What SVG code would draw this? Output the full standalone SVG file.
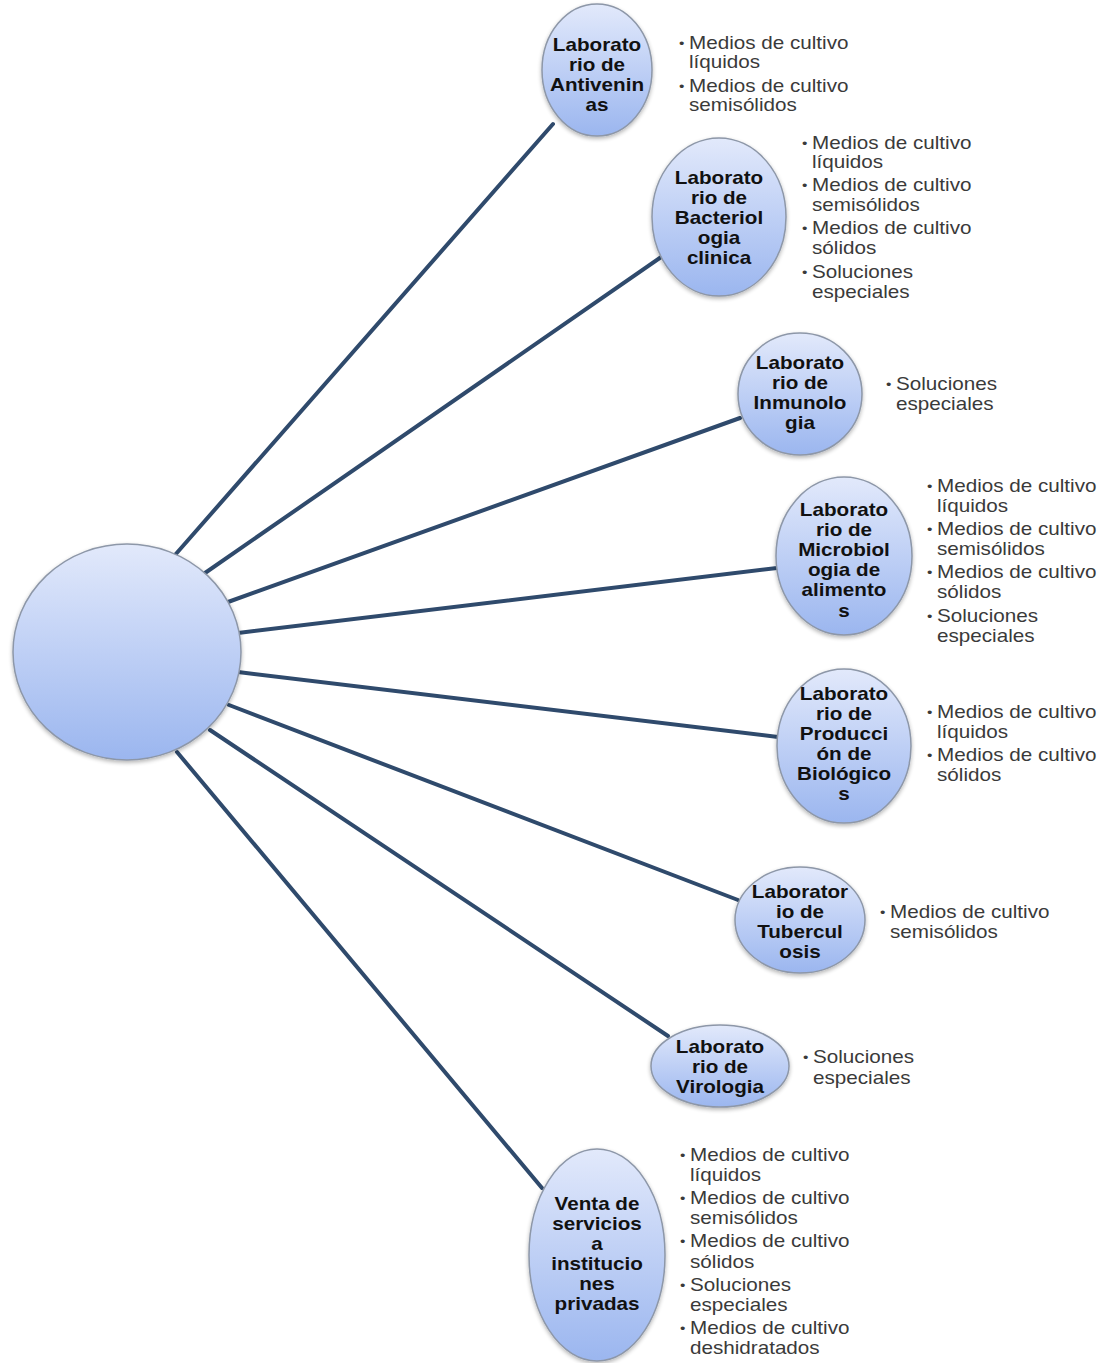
<svg xmlns="http://www.w3.org/2000/svg" width="1113" height="1363" viewBox="0 0 1113 1363">
<defs>
<linearGradient id="nodeGrad" x1="0" y1="0" x2="0" y2="1">
<stop offset="0" stop-color="#e2e9fb"/>
<stop offset="1" stop-color="#9bb6ef"/>
</linearGradient>
<filter id="shadow" x="-20%" y="-20%" width="140%" height="140%">
<feGaussianBlur in="SourceAlpha" stdDeviation="2"/>
<feOffset dx="0" dy="2" result="b"/>
<feComponentTransfer><feFuncA type="linear" slope="0.3"/></feComponentTransfer>
<feMerge><feMergeNode/><feMergeNode in="SourceGraphic"/></feMerge>
</filter>
<style>
.node{fill:url(#nodeGrad);stroke:#8d97a8;stroke-width:1.5;filter:url(#shadow)}
.conn{stroke:#2f4a6c;stroke-width:4;fill:none;stroke-linecap:round}
.lbl{font-family:"Liberation Sans",Arial,sans-serif;font-weight:bold;font-size:17.5px;fill:#111;text-anchor:middle}
.bul{font-family:"Liberation Sans",Arial,sans-serif;font-size:17.5px;fill:#3a3a3a}
.dot{font-family:"Liberation Sans",Arial,sans-serif;font-size:13px;fill:#3a3a3a}
</style>
</defs>
<rect width="1113" height="1363" fill="#ffffff"/>
<g id="connectors">
<line class="conn" x1="175" y1="555" x2="553" y2="124"/>
<line class="conn" x1="205" y1="573" x2="664" y2="255"/>
<line class="conn" x1="228" y1="602" x2="740" y2="418"/>
<line class="conn" x1="238" y1="633" x2="777" y2="568"/>
<line class="conn" x1="238" y1="672" x2="778" y2="737"/>
<line class="conn" x1="229" y1="705" x2="738" y2="900"/>
<line class="conn" x1="210" y1="730" x2="668" y2="1036"/>
<line class="conn" x1="177" y1="752" x2="542" y2="1188"/>
</g>
<g id="center">
<ellipse class="node" cx="127" cy="652" rx="114" ry="108"/>
</g>
<g id="n1">
<ellipse class="node" cx="597" cy="70" rx="55" ry="66"/>
<g transform="translate(597,0) scale(1.18,1)">
<text class="lbl" x="0" y="51">Laborato</text>
<text class="lbl" x="0" y="71">rio de</text>
<text class="lbl" x="0" y="91">Antivenin</text>
<text class="lbl" x="0" y="111">as</text>
</g>
<g transform="translate(679,0) scale(1.18,1)">
<text class="dot" x="0" y="48">•</text>
<text class="bul" x="8.5" y="49">Medios de cultivo</text>
<text class="bul" x="8.5" y="68">líquidos</text>
<text class="dot" x="0" y="91">•</text>
<text class="bul" x="8.5" y="92">Medios de cultivo</text>
<text class="bul" x="8.5" y="111">semisólidos</text>
</g>
</g>
<g id="n2">
<ellipse class="node" cx="719" cy="217" rx="67" ry="79"/>
<g transform="translate(719,0) scale(1.18,1)">
<text class="lbl" x="0" y="184">Laborato</text>
<text class="lbl" x="0" y="204">rio de</text>
<text class="lbl" x="0" y="224">Bacteriol</text>
<text class="lbl" x="0" y="244">ogia</text>
<text class="lbl" x="0" y="264">clinica</text>
</g>
<g transform="translate(802,0) scale(1.18,1)">
<text class="dot" x="0" y="148">•</text>
<text class="bul" x="8.5" y="149">Medios de cultivo</text>
<text class="bul" x="8.5" y="168">líquidos</text>
<text class="dot" x="0" y="190">•</text>
<text class="bul" x="8.5" y="191">Medios de cultivo</text>
<text class="bul" x="8.5" y="211">semisólidos</text>
<text class="dot" x="0" y="233">•</text>
<text class="bul" x="8.5" y="234">Medios de cultivo</text>
<text class="bul" x="8.5" y="254">sólidos</text>
<text class="dot" x="0" y="277">•</text>
<text class="bul" x="8.5" y="278">Soluciones</text>
<text class="bul" x="8.5" y="298">especiales</text>
</g>
</g>
<g id="n3">
<ellipse class="node" cx="800" cy="394" rx="62" ry="61"/>
<g transform="translate(800,0) scale(1.18,1)">
<text class="lbl" x="0" y="369">Laborato</text>
<text class="lbl" x="0" y="389">rio de</text>
<text class="lbl" x="0" y="409">Inmunolo</text>
<text class="lbl" x="0" y="429">gia</text>
</g>
<g transform="translate(886,0) scale(1.18,1)">
<text class="dot" x="0" y="389">•</text>
<text class="bul" x="8.5" y="390">Soluciones</text>
<text class="bul" x="8.5" y="410">especiales</text>
</g>
</g>
<g id="n4">
<ellipse class="node" cx="844" cy="556" rx="68" ry="79"/>
<g transform="translate(844,0) scale(1.18,1)">
<text class="lbl" x="0" y="516">Laborato</text>
<text class="lbl" x="0" y="536">rio de</text>
<text class="lbl" x="0" y="556">Microbiol</text>
<text class="lbl" x="0" y="576">ogia de</text>
<text class="lbl" x="0" y="596">alimento</text>
<text class="lbl" x="0" y="617">s</text>
</g>
<g transform="translate(927,0) scale(1.18,1)">
<text class="dot" x="0" y="491">•</text>
<text class="bul" x="8.5" y="492">Medios de cultivo</text>
<text class="bul" x="8.5" y="512">líquidos</text>
<text class="dot" x="0" y="534">•</text>
<text class="bul" x="8.5" y="535">Medios de cultivo</text>
<text class="bul" x="8.5" y="555">semisólidos</text>
<text class="dot" x="0" y="577">•</text>
<text class="bul" x="8.5" y="578">Medios de cultivo</text>
<text class="bul" x="8.5" y="598">sólidos</text>
<text class="dot" x="0" y="621">•</text>
<text class="bul" x="8.5" y="622">Soluciones</text>
<text class="bul" x="8.5" y="642">especiales</text>
</g>
</g>
<g id="n5">
<ellipse class="node" cx="844" cy="746" rx="67" ry="77"/>
<g transform="translate(844,0) scale(1.18,1)">
<text class="lbl" x="0" y="700">Laborato</text>
<text class="lbl" x="0" y="720">rio de</text>
<text class="lbl" x="0" y="740">Producci</text>
<text class="lbl" x="0" y="760">ón de</text>
<text class="lbl" x="0" y="780">Biológico</text>
<text class="lbl" x="0" y="800">s</text>
</g>
<g transform="translate(927,0) scale(1.18,1)">
<text class="dot" x="0" y="717">•</text>
<text class="bul" x="8.5" y="718">Medios de cultivo</text>
<text class="bul" x="8.5" y="738">líquidos</text>
<text class="dot" x="0" y="760">•</text>
<text class="bul" x="8.5" y="761">Medios de cultivo</text>
<text class="bul" x="8.5" y="781">sólidos</text>
</g>
</g>
<g id="n6">
<ellipse class="node" cx="800" cy="920" rx="65" ry="53"/>
<g transform="translate(800,0) scale(1.18,1)">
<text class="lbl" x="0" y="898">Laborator</text>
<text class="lbl" x="0" y="918">io de</text>
<text class="lbl" x="0" y="938">Tubercul</text>
<text class="lbl" x="0" y="958">osis</text>
</g>
<g transform="translate(880,0) scale(1.18,1)">
<text class="dot" x="0" y="917">•</text>
<text class="bul" x="8.5" y="918">Medios de cultivo</text>
<text class="bul" x="8.5" y="938">semisólidos</text>
</g>
</g>
<g id="n7">
<ellipse class="node" cx="720" cy="1066" rx="69" ry="41"/>
<g transform="translate(720,0) scale(1.18,1)">
<text class="lbl" x="0" y="1053">Laborato</text>
<text class="lbl" x="0" y="1073">rio de</text>
<text class="lbl" x="0" y="1093">Virologia</text>
</g>
<g transform="translate(803,0) scale(1.18,1)">
<text class="dot" x="0" y="1062">•</text>
<text class="bul" x="8.5" y="1063">Soluciones</text>
<text class="bul" x="8.5" y="1084">especiales</text>
</g>
</g>
<g id="n8">
<ellipse class="node" cx="597" cy="1255" rx="68" ry="106"/>
<g transform="translate(597,0) scale(1.18,1)">
<text class="lbl" x="0" y="1210">Venta de</text>
<text class="lbl" x="0" y="1230">servicios</text>
<text class="lbl" x="0" y="1250">a</text>
<text class="lbl" x="0" y="1270">institucio</text>
<text class="lbl" x="0" y="1290">nes</text>
<text class="lbl" x="0" y="1310">privadas</text>
</g>
<g transform="translate(680,0) scale(1.18,1)">
<text class="dot" x="0" y="1160">•</text>
<text class="bul" x="8.5" y="1161">Medios de cultivo</text>
<text class="bul" x="8.5" y="1181">líquidos</text>
<text class="dot" x="0" y="1203">•</text>
<text class="bul" x="8.5" y="1204">Medios de cultivo</text>
<text class="bul" x="8.5" y="1224">semisólidos</text>
<text class="dot" x="0" y="1246">•</text>
<text class="bul" x="8.5" y="1247">Medios de cultivo</text>
<text class="bul" x="8.5" y="1268">sólidos</text>
<text class="dot" x="0" y="1290">•</text>
<text class="bul" x="8.5" y="1291">Soluciones</text>
<text class="bul" x="8.5" y="1311">especiales</text>
<text class="dot" x="0" y="1333">•</text>
<text class="bul" x="8.5" y="1334">Medios de cultivo</text>
<text class="bul" x="8.5" y="1354">deshidratados</text>
</g>
</g>
</svg>
